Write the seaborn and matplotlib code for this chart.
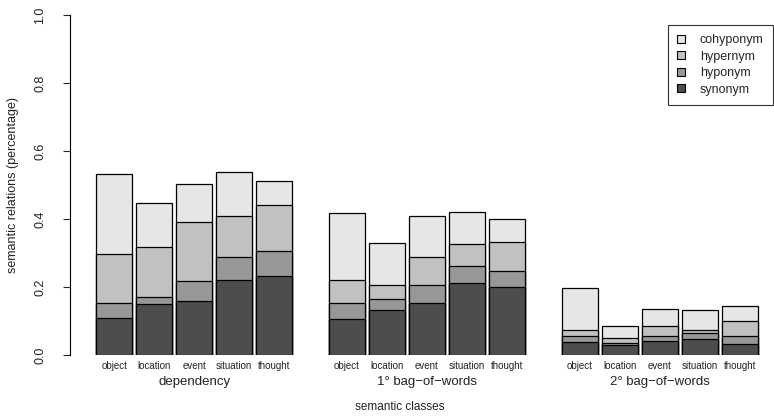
import numpy as np
import pandas as pd
import matplotlib
matplotlib.use("Agg")
import matplotlib.pyplot as plt
from matplotlib.patches import Patch
import seaborn as sns

methods = ["dependency", "1° bag\u2212of\u2212words", "2° bag\u2212of\u2212words"]
classes = ["object", "location", "event", "situation", "thought"]
relations = ["synonym", "hyponym", "hypernym", "cohyponym"]

# segment heights, 15 bars: dependency(5), 1° bag-of-words(5), 2° bag-of-words(5)
synonym = [0.109, 0.149, 0.158, 0.220, 0.233,
           0.105, 0.133, 0.152, 0.211, 0.199,
           0.037, 0.029, 0.041, 0.048, 0.031]
hyponym = [0.044, 0.023, 0.061, 0.068, 0.074,
           0.047, 0.031, 0.053, 0.052, 0.048,
           0.018, 0.007, 0.014, 0.016, 0.026]
hypernym = [0.144, 0.145, 0.172, 0.122, 0.134,
            0.068, 0.043, 0.084, 0.064, 0.084,
            0.020, 0.014, 0.030, 0.011, 0.043]
cohyponym = [0.235, 0.131, 0.112, 0.127, 0.072,
             0.199, 0.122, 0.120, 0.093, 0.068,
             0.121, 0.034, 0.049, 0.057, 0.045]

colors = {"synonym": "#4D4D4D", "hyponym": "#989898",
          "hypernym": "#C1C1C1", "cohyponym": "#E6E6E6"}

# layout: bar width 1, gap 0.1 within groups, 1 between groups
space_in, space_between = 0.1, 1.0
centers = []
x = 0.0
for g in range(len(methods)):
    for c in range(len(classes)):
        centers.append(x + 0.5)
        x += 1 + space_in
    x += space_between - space_in
centers = np.array(centers)

seg = {"synonym": synonym, "hyponym": hyponym,
       "hypernym": hypernym, "cohyponym": cohyponym}
cum = np.cumsum(np.array([seg[r] for r in relations]), axis=0)

W, H = 774, 418
fig = plt.figure(figsize=(W / 100, H / 100), dpi=100)
sns.set_style("white")
plt.rcParams["font.family"] = ["Liberation Sans", "DejaVu Sans"]

ax_left, ax_right = 70, 770
ax_bottom, ax_top = 355, 15
ax = fig.add_axes([ax_left / W, (H - ax_bottom) / H,
                   (ax_right - ax_left) / W, (ax_bottom - ax_top) / H])
unit = 36.37
first_bar = 96
x0 = -(first_bar - ax_left) / unit
x1 = (ax_right - first_bar) / unit

for i in range(len(relations) - 1, -1, -1):
    r = relations[i]
    df = pd.DataFrame({"pos": centers, "val": cum[i]})
    sns.barplot(data=df, x="pos", y="val", native_scale=True,
                width=1 / 1.1, color=colors[r], saturation=1,
                edgecolor="black", linewidth=0.9, errorbar=None, ax=ax)

ax.set_xlim(x0, x1)
ax.set_ylim(0, 1)
for s in ["top", "right", "bottom"]:
    ax.spines[s].set_visible(False)
ax.spines["left"].set_bounds(0, 1)
ax.spines["left"].set_linewidth(0.8)
ax.spines["left"].set_color("black")

ax.set_yticks([0.0, 0.2, 0.4, 0.6, 0.8, 1.0])
ax.set_yticklabels(["0.0", "0.2", "0.4", "0.6", "0.8", "1.0"],
                   rotation=90, va="center", fontsize=9, color="#222222")
ax.tick_params(axis="y", direction="out", length=5, width=0.8, left=True, pad=12)

ax.set_xticks(centers)
ax.set_xticklabels(classes * len(methods), fontsize=7, color="#222222")
ax.tick_params(axis="x", length=0, pad=4)
ax.set_xlabel("")
ax.set_ylabel("")

# group labels
for g, m in enumerate(methods):
    cx = centers[g * 5:(g + 1) * 5].mean()
    ax.text(cx, -0.078, m, ha="center", va="center", fontsize=9.5,
            color="#222222", transform=ax.get_xaxis_transform())

fig.text(400 / W, 1 - 407 / H, "semantic classes", ha="center", va="center",
         fontsize=8.5, color="#222222")
fig.text(13 / W, 1 - 185 / H, "semantic relations (percentage)", rotation=90,
         ha="center", va="center", fontsize=9, color="#222222")

handles = [Patch(facecolor=colors[r], edgecolor="black", linewidth=0.8, label=r)
           for r in relations[::-1]]
leg = fig.legend(handles=handles, loc="upper right",
                 bbox_to_anchor=(773 / W, 1 - 25 / H), frameon=True,
                 fancybox=False, fontsize=9, handlelength=0.6, handleheight=0.6,
                 handletextpad=1.2, labelspacing=0.35, borderpad=0.75,
                 borderaxespad=0)
leg.get_frame().set_edgecolor("black")
leg.get_frame().set_linewidth(0.8)

fig.savefig("out.png", dpi=100)
